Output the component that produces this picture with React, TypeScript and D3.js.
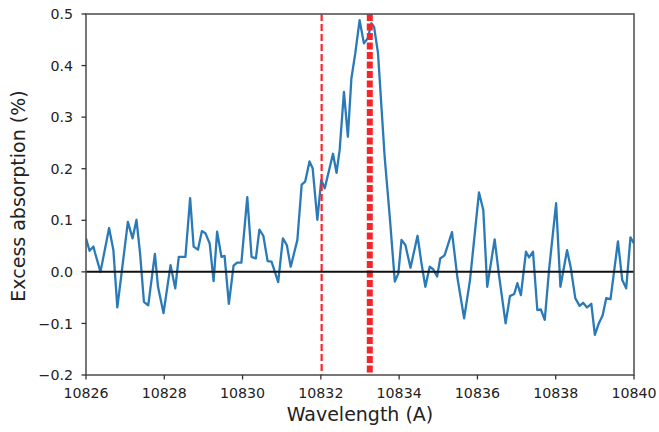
import React from "react";
import * as d3 from "d3";

const wavelength = [
  10826.0, 10826.09, 10826.19, 10826.23, 10826.37, 10826.59, 10826.7, 10826.8, 10826.91, 10827.07,
  10827.19, 10827.29, 10827.38, 10827.48, 10827.59, 10827.76, 10827.84, 10827.98, 10828.16, 10828.28,
  10828.37, 10828.54, 10828.66, 10828.75, 10828.86, 10828.96, 10829.05, 10829.16, 10829.26, 10829.35,
  10829.46, 10829.54, 10829.65, 10829.77, 10829.86, 10829.97, 10830.12, 10830.23, 10830.34, 10830.43,
  10830.53, 10830.64, 10830.74, 10830.91, 10831.03, 10831.13, 10831.23, 10831.4, 10831.51, 10831.6,
  10831.71, 10831.79, 10831.91, 10832.01, 10832.1, 10832.31, 10832.4, 10832.48, 10832.59, 10832.69,
  10832.78, 10832.88, 10832.99, 10833.1, 10833.2, 10833.29, 10833.36, 10833.46, 10833.63, 10833.76,
  10833.89, 10833.98, 10834.06, 10834.16, 10834.29, 10834.47, 10834.57, 10834.67, 10834.78, 10834.87,
  10834.97, 10835.05, 10835.16, 10835.35, 10835.49, 10835.66, 10835.81, 10836.04, 10836.15, 10836.25,
  10836.44, 10836.55, 10836.72, 10836.83, 10836.94, 10837.02, 10837.11, 10837.24, 10837.32, 10837.42,
  10837.53, 10837.62, 10837.72, 10837.83, 10838.01, 10838.12, 10838.29, 10838.38, 10838.5, 10838.61,
  10838.7, 10838.8, 10838.91, 10839.0, 10839.1, 10839.2, 10839.29, 10839.4, 10839.59, 10839.7,
  10839.8, 10839.91, 10840.0,
];

const excess = [
  0.065, 0.041, 0.049, 0.037, 0.0, 0.085, 0.042, -0.069, -0.002, 0.097,
  0.065, 0.101, 0.037, -0.058, -0.065, 0.035, -0.029, -0.08, 0.013, -0.032,
  0.029, 0.029, 0.143, 0.049, 0.043, 0.079, 0.075, 0.055, -0.018, 0.078,
  0.029, 0.031, -0.062, 0.012, 0.018, 0.018, 0.145, 0.029, 0.026, 0.082,
  0.07, 0.021, 0.02, -0.02, 0.065, 0.052, 0.01, 0.062, 0.169, 0.175,
  0.214, 0.201, 0.101, 0.178, 0.162, 0.229, 0.192, 0.236, 0.349, 0.262,
  0.375, 0.424, 0.488, 0.443, 0.453, 0.482, 0.475, 0.424, 0.223, 0.107,
  -0.019, -0.003, 0.062, 0.052, 0.008, 0.07, 0.017, -0.029, 0.01, 0.005,
  -0.009, 0.026, 0.032, 0.077, -0.012, -0.09, -0.016, 0.154, 0.12, -0.029,
  0.063, -0.006, -0.1, -0.047, -0.043, -0.022, -0.045, 0.039, 0.028, 0.039,
  -0.074, -0.073, -0.093, 0.004, 0.133, -0.029, 0.042, 0.01, -0.051, -0.066,
  -0.06, -0.069, -0.062, -0.122, -0.1, -0.084, -0.051, -0.053, 0.059, -0.016,
  -0.032, 0.067, 0.055,
];

const xTicks = [10826, 10828, 10830, 10832, 10834, 10836, 10838, 10840];
const yTicks = [-0.2, -0.1, 0.0, 0.1, 0.2, 0.3, 0.4, 0.5];
const redLines = [
  { x: 10832.02, width: 2.2, dash: "7,3" },
  { x: 10833.25, width: 6, dash: "7,2.5" },
];

const W = 659;
const H = 432;
const M = { left: 86, right: 634, top: 14, bottom: 375 };
const FONT = "'DejaVu Sans', sans-serif";

export default function App() {
  const x = d3.scaleLinear().domain([10826, 10840]).range([M.left, M.right]);
  const y = d3.scaleLinear().domain([-0.2, 0.5]).range([M.bottom, M.top]);
  const pts = wavelength.map((w, i) => [w, excess[i]] as [number, number]);
  const line = d3
    .line<[number, number]>()
    .x((d) => x(d[0]))
    .y((d) => y(d[1]));
  const fmtY = (v: number) => (v < 0 ? "\u2212" : "") + Math.abs(v).toFixed(1);

  return (
    <svg
      width={W}
      height={H}
      style={{ position: "absolute", left: 0, top: 0, background: "#fff" }}
      fontFamily={FONT}
    >
      <rect x={0} y={0} width={W} height={H} fill="#fff" />
      <defs>
        <clipPath id="plot">
          <rect x={M.left} y={M.top} width={M.right - M.left} height={M.bottom - M.top} />
        </clipPath>
      </defs>
      <g clipPath="url(#plot)">
        <path d={line(pts) || ""} fill="none" stroke="#2a7ab8" strokeWidth={2.3} strokeLinejoin="round" />
        {redLines.map((r, i) => (
          <line
            key={i}
            x1={x(r.x)}
            x2={x(r.x)}
            y1={M.top}
            y2={M.bottom}
            stroke="#f5262b"
            strokeWidth={r.width}
            strokeDasharray={r.dash}
          />
        ))}
        <line x1={M.left} x2={M.right} y1={y(0)} y2={y(0)} stroke="#111" strokeWidth={2} />
      </g>
      <rect
        x={M.left}
        y={M.top}
        width={M.right - M.left}
        height={M.bottom - M.top}
        fill="none"
        stroke="#555"
        strokeWidth={1.6}
      />
      {yTicks.map((t) => (
        <g key={"y" + t}>
          <line x1={M.left - 4.5} x2={M.left} y1={y(t)} y2={y(t)} stroke="#333" strokeWidth={1.3} />
          <text x={M.left - 13} y={y(t)} dy="0.36em" textAnchor="end" fontSize={14.2} fill="#222">
            {fmtY(t)}
          </text>
        </g>
      ))}
      {xTicks.map((t) => (
        <g key={"x" + t}>
          <line x1={x(t)} x2={x(t)} y1={M.bottom} y2={M.bottom + 4.5} stroke="#333" strokeWidth={1.3} />
          <text x={x(t)} y={398} textAnchor="middle" fontSize={14.2} fill="#222">
            {t}
          </text>
        </g>
      ))}
      <text x={360} y={421} textAnchor="middle" fontSize={19} fill="#222">
        Wavelength (A)
      </text>
      <text transform="translate(25,196) rotate(-90)" textAnchor="middle" fontSize={19} fill="#222">
        Excess absorption (%)
      </text>
    </svg>
  );
}
